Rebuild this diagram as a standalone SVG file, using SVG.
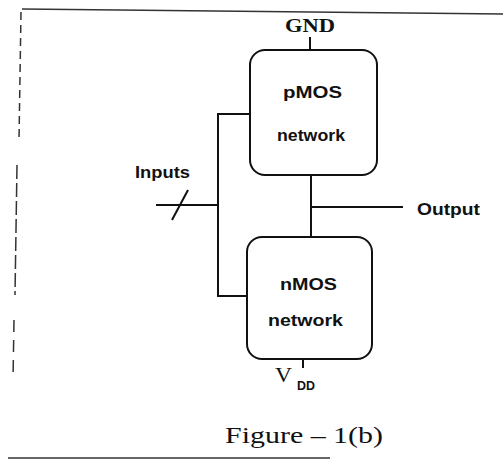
<svg xmlns="http://www.w3.org/2000/svg" width="503" height="464" viewBox="0 0 503 464">
<style>
.box{fill:#fff;stroke:#111;stroke-width:2}
.w{fill:none;stroke:#111;stroke-width:2}
.sans{font-family:"Liberation Sans",Arial,sans-serif;fill:#111;font-weight:bold}
.serif{font-family:"Liberation Serif","Times New Roman",serif;fill:#111}
.fr{stroke:#333;stroke-width:1.5;fill:none}
</style>
<rect width="503" height="464" fill="#fff"/>
<g id="frame">
<line class="fr" x1="22" y1="9" x2="503" y2="14"/>
<line class="fr" x1="21" y1="12" x2="19" y2="140" stroke-dasharray="8,5"/>
<line class="fr" x1="17" y1="165" x2="15" y2="295" stroke-dasharray="14,4"/>
<line class="fr" x1="14" y1="320" x2="13" y2="380" stroke-dasharray="12,8"/>
<line class="fr" x1="8" y1="458" x2="330" y2="458"/>
</g>
<g id="connectors">
<line class="w" x1="310" y1="37" x2="310" y2="50"/>
<line class="w" x1="311" y1="175" x2="311" y2="237"/>
<line class="w" x1="311" y1="207" x2="403" y2="207"/>
<polyline class="w" points="250,114 218,114 218,296 247,296"/>
<line class="w" x1="156" y1="205" x2="218" y2="205"/>
<line class="w" x1="172" y1="220" x2="188" y2="190"/>
<line class="w" x1="303" y1="359" x2="303" y2="368" stroke-width="1.5"/>
</g>
<g id="pmos">
<rect class="box" x="250" y="50" width="127" height="125" rx="15"/>
<text class="sans" x="283" y="98" font-size="17" textLength="59" lengthAdjust="spacingAndGlyphs">pMOS</text>
<text class="sans" x="277" y="141" font-size="17" textLength="68" lengthAdjust="spacingAndGlyphs">network</text>
</g>
<g id="nmos">
<rect class="box" x="247" y="237" width="125" height="122" rx="15"/>
<text class="sans" x="280" y="290" font-size="17" textLength="57" lengthAdjust="spacingAndGlyphs">nMOS</text>
<text class="sans" x="268" y="326" font-size="17" textLength="75" lengthAdjust="spacingAndGlyphs">network</text>
</g>
<g id="labels">
<text class="serif" x="285" y="32" font-size="18" font-weight="bold" textLength="50" lengthAdjust="spacingAndGlyphs">GND</text>
<text class="sans" x="135" y="178" font-size="17" textLength="55" lengthAdjust="spacingAndGlyphs">Inputs</text>
<text class="sans" x="417" y="215" font-size="17" textLength="63" lengthAdjust="spacingAndGlyphs">Output</text>
<text class="serif" x="275" y="382" font-size="20" textLength="17" lengthAdjust="spacingAndGlyphs">V</text>
<text class="sans" x="297" y="390" font-size="12.5" textLength="18" lengthAdjust="spacingAndGlyphs">DD</text>
<text class="serif" x="225" y="443" font-size="24" textLength="158" lengthAdjust="spacingAndGlyphs">Figure – 1(b)</text>
</g>
</svg>
